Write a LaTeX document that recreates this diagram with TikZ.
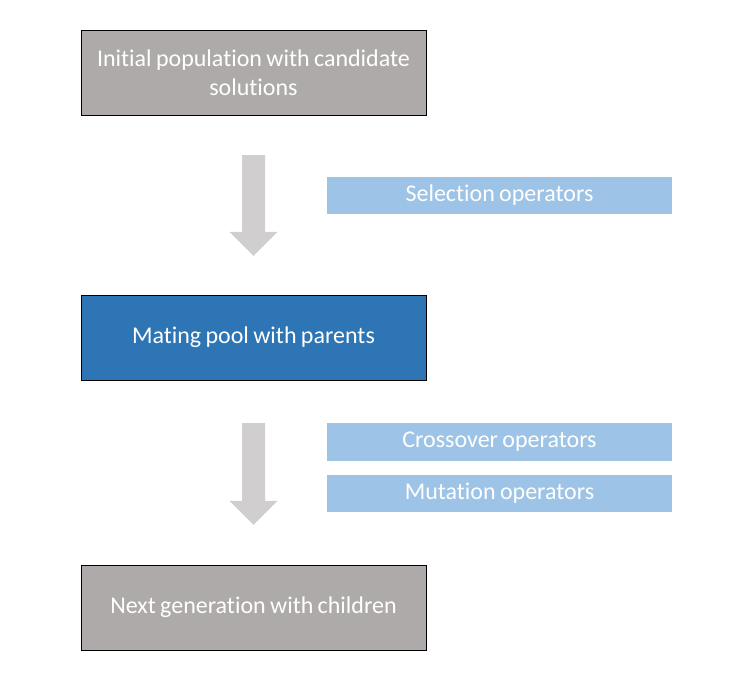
\documentclass[tikz,border=0pt]{standalone}
\usepackage{fontspec}
\setmainfont[Ligatures=NoCommon, WordSpace=0.8]{Carlito}
\usetikzlibrary{calc}

\definecolor{boxgray}{HTML}{AEAAAA}
\definecolor{arrowgray}{HTML}{D0CECE}
\definecolor{poolblue}{HTML}{2E75B6}
\definecolor{opblue}{HTML}{9DC3E6}

\begin{document}
\begin{tikzpicture} [x=1pt, y=-1pt,
  stage/.style={draw=black, thin, minimum width=345pt, minimum height=85pt,
    inner sep=0pt, align=center, text=white,
    font=\fontsize{24}{29}\selectfont},
  oper/.style={fill=opblue, minimum width=345pt, minimum height=37pt,
    inner sep=0pt, text=white, font=\fontsize{24}{29}\selectfont}]
\useasboundingbox (0,0) rectangle (742,685);
\node[stage, fill=boxgray] (init) at (253.5,72.5) {Initial population with candidate\\solutions};
\node[stage, fill=poolblue] (pool) at (253.5,337.5) {Mating pool with parents};
\node[stage, fill=boxgray] (next) at (253.5,607.5) {Next generation with children};
\node[oper] (sel) at (499.5,195.5) {Selection operators};
\node[oper, minimum height=38pt] (cross) at (499.5,442) {Crossover operators};
\node[oper] (mut) at (499.5,493.5) {Mutation operators};
% block arrows between stages
\foreach \a/\b/\t/\s in {init/pool/40/39, pool/next/43/40} {
 \coordinate (top) at ($(\a.south)+(0,\t)$);
 \coordinate (tip) at ($(\b.north)+(0,-\s)$);
 \fill[arrowgray] ($(top)+(-11.5,0)$) -- ($(top)+(11.5,0)$) -- ($(tip)+(11.5,-24)$)
   -- ($(tip)+(24,-24)$) -- (tip) -- ($(tip)+(-24,-24)$) -- ($(tip)+(-11.5,-24)$) -- cycle;
}
\end{tikzpicture}
\end{document}
